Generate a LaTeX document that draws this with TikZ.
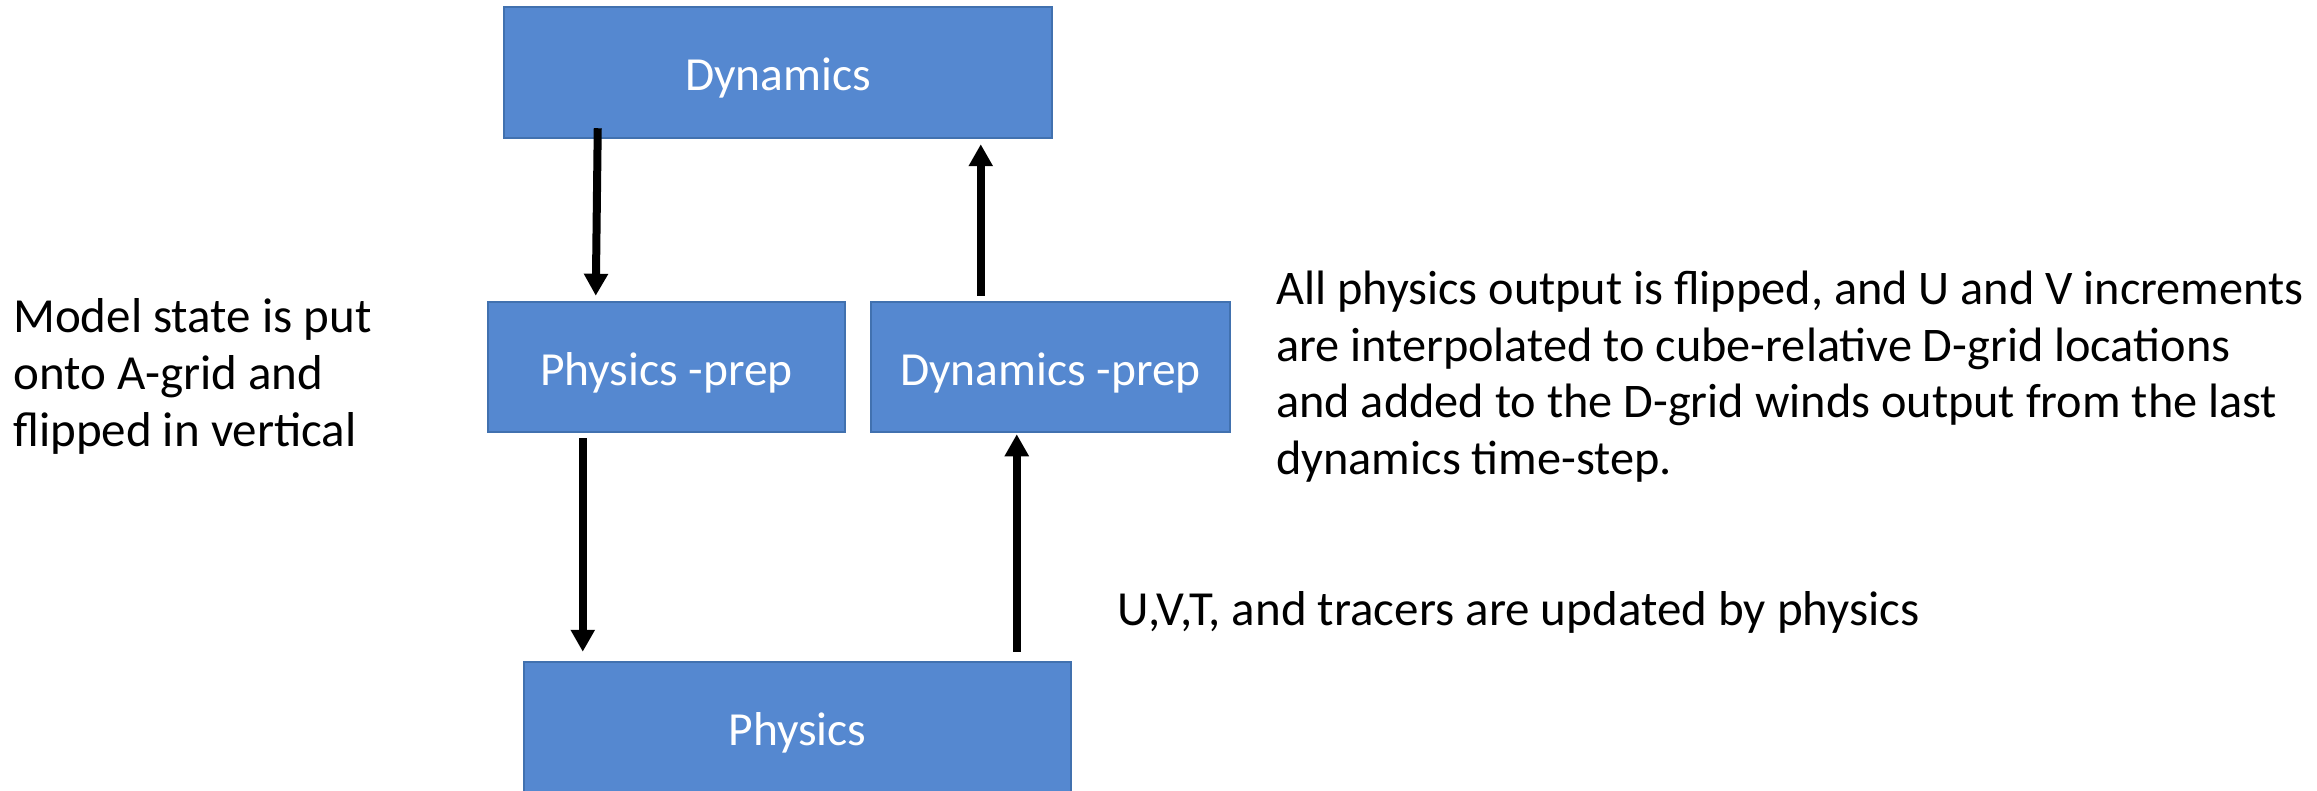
\documentclass[tikz,border=0pt]{standalone}
\usepackage{fontspec}
\setmainfont{Carlito}
\usetikzlibrary{arrows.meta,calc}
\definecolor{boxfill}{RGB}{85,136,208}
\definecolor{boxline}{RGB}{65,113,175}
\begin{document}
\begin{tikzpicture}[x=1pt,y=-1pt,
  blk/.style={draw=boxline, line width=2.5pt, fill=boxfill, text=white, inner sep=0pt,
    text height=36pt, text depth=0pt, font=\fontsize{47.5}{57}\selectfont},
  lbl/.style={font=\fontsize{49}{56.8}\selectfont, align=left, inner sep=0pt, text=black},
  arr/.style={line width=8pt, -{Triangle[width=23pt,length=22pt]}}]
\useasboundingbox (0,0) rectangle (2317,791);
\fill[white] (0,0) rectangle (2317,791);
\node[blk, minimum width=548pt, minimum height=131pt] (dyn) at (778,72.5) {Dynamics};
\node[blk, minimum width=357pt, minimum height=130pt] (pprep) at (666.5,367) {Physics -prep};
\node[blk, minimum width=359pt, minimum height=130pt] (dprep) at (1050.5,367) {Dynamics -prep};
\node[blk, minimum width=547pt, minimum height=131pt] (phys) at (797.5,727.5) {Physics};
% base anchor of a multi-line node = baseline of its last line
\node[lbl, anchor=base west] (left) at (13,446) {Model state is put\\onto A-grid and\\flipped in vertical};
\node[lbl, anchor=base west, font=\fontsize{48.3}{56.5}\selectfont] (right) at (1276,474) {All physics output is flipped, and U and V increments\\are interpolated to cube-relative D-grid locations\\and added to the D-grid winds output from the last\\dynamics time-step.};
\node[lbl, anchor=base west] (upd) at (1117,625) {U,V,T, and tracers are updated by physics};
\draw[arr] ($(dyn.south west)+(95,-11)$) -- ($(pprep.north west)+(109,-5)$);
\draw[arr] ($(dprep.north west)+(111,-5)$) -- ($(dyn.south west)+(478,5)$);
\draw[arr] ($(pprep.south west)+(96,5)$) -- ($(phys.north west)+(60,-9)$);
\draw[arr] ($(phys.north west)+(494,-9)$) -- ($(dprep.south west)+(147,1)$);
\end{tikzpicture}
\end{document}
